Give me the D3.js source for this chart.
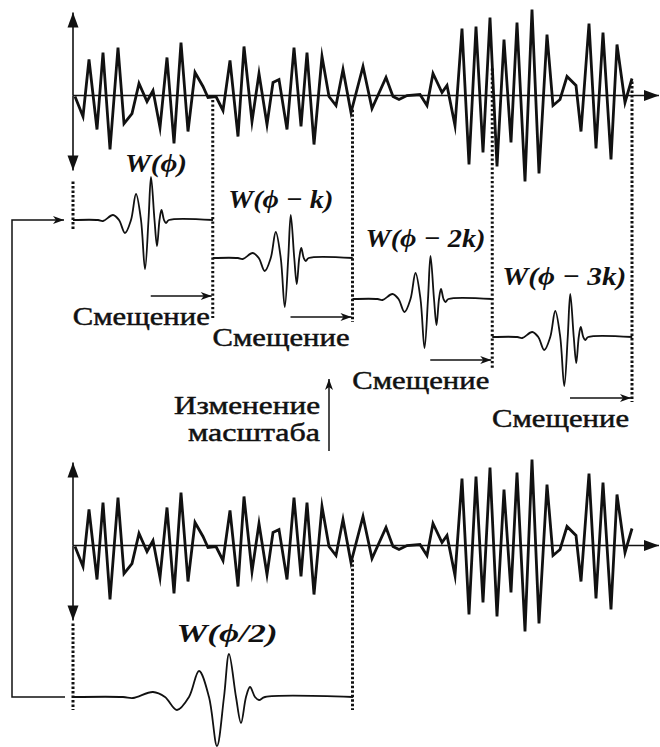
<!DOCTYPE html>
<html>
<head>
<meta charset="utf-8">
<script src="https://cdn.jsdelivr.net/npm/d3@7"></script>
<style>
body { margin: 0; background: #fff; }
svg { display: block; }
.signal { fill: none; stroke: #111; stroke-width: 2.8; stroke-linejoin: miter; stroke-miterlimit: 8; }
.axis-line { stroke: #111; stroke-width: 1.6; fill: none; }
.wavelet { fill: none; stroke: #111; stroke-width: 1.8; }
.dotted { stroke: #111; stroke-width: 3; stroke-dasharray: 2.4 2.1; }
.thin { stroke: #111; stroke-width: 1.5; fill: none; }
.label { font-family: "Liberation Serif", "DejaVu Serif", "Noto Serif", serif; font-size: 26px; fill: #111; stroke: #111; stroke-width: 0.5; }
.w-label { font-family: "Liberation Serif", "DejaVu Serif", "Noto Serif", serif; font-size: 26px; font-weight: bold; font-style: italic; fill: #111; }
</style>
</head>
<body>
<div id="chart"></div>
<script>
//////////////////////////////////////////////////////////////
//////////////////////// Data ////////////////////////////////
//////////////////////////////////////////////////////////////

//The signal (time, amplitude)
const signalT = [2,10,16,24,30,37,45,51,59,66,74,80,87,94,101,108,115,122,130,135,143,150,157,165,171,179,186,194,200,206,214,221,228,234,241,249,256,263,270,278,290,299,313,320,326,334,347,354,360,369,374,382,389,396,403,410,417,424,431,438,444,452,459,466,474,480,487,494,503,508,516,523,530,538,544,552,559]
const signalV = [-1,-21,36,-34,43,-54,48,-28,-18,12,-6,5,-32,38,-48,53,-36,23,9,-2,-1,-15,35,-41,49,-26,22,-29,13,16,-34,48,-31,43,-49,39,-1,-10,26,-17,29,-13,18,-1,-4,0,1,-10,22,3,10,-30,67,-69,69,-57,78,-71,56,-47,73,-86,86,-78,61,-10,-4,19,10,-36,72,-53,63,-64,51,-7,17]

//Mother wavelet shape (time inside one window, amplitude)
const waveletT = [0,25,30,40,46,52,58,63,68,72,75.5,78,81.5,84,86.5,88.5,91,93,96,140]
const waveletV = [0,0,-1,5,0,-13,0,26,0,-49,0,43,0,-26,0,10,0,-3,0,0]

const timeMax = 559
const kShift = timeMax / 4          //shift step k
const shifts = [0, 1, 2, 3]
const scaleFactor = 2

const waveletLabels = ["W(ϕ)", "W(ϕ − k)", "W(ϕ − 2k)", "W(ϕ − 3k)"]
const scaledLabel = "W(ϕ/2)"
const shiftText = "Смещение"
const scaleText = ["Изменение", "масштаба"]

//////////////////////////////////////////////////////////////
//////////////////////// Layout //////////////////////////////
//////////////////////////////////////////////////////////////

const width = 660
const height = 747
const topBase = 95.5
const bottomBase = 545.5
const waveBase = [220, 258, 299, 337]
const scaledBase = 697
const labelDx = [83, 68, 73, 72]
const labelY = [172, 208, 247, 285]
const labelLen = [62, 105, 120, 124]
const shiftArrowY = [296, 317, 360, 398]
const dottedEnd = [230, 318, 322, 368, 402]
const loopX = 12

const svg = d3.select("#chart")
    .append("svg")
    .attr("width", width)
    .attr("height", height)

const defs = svg.append("defs")

//Filled triangle for the axes
defs.append("marker")
    .attr("id", "tri")
    .attr("viewBox", "-16 -6 17 12")
    .attr("refX", 0).attr("refY", 0)
    .attr("markerWidth", 17).attr("markerHeight", 12)
    .attr("markerUnits", "userSpaceOnUse")
    .attr("orient", "auto")
    .append("path")
    .attr("d", "M0,0 L-15,-5.5 L-15,5.5 Z")
    .style("fill", "#111")

//Thin arrow head
defs.append("marker")
    .attr("id", "barb")
    .attr("viewBox", "-12 -5 13 10")
    .attr("refX", 0).attr("refY", 0)
    .attr("markerWidth", 13).attr("markerHeight", 10)
    .attr("markerUnits", "userSpaceOnUse")
    .attr("orient", "auto")
    .append("path")
    .attr("d", "M0,0 L-11,-4 L-8,0 L-11,4 Z")
    .style("fill", "#111")

//////////////////////////////////////////////////////////////
//////////////////////// Scales //////////////////////////////
//////////////////////////////////////////////////////////////

const xScale = d3.scaleLinear()
    .domain([0, timeMax])
    .range([73, 632])

const ampScale = d3.scaleLinear()
    .domain([-100, 100])
    .range([100, -100])

const signalData = signalT.map((t, i) => [t, signalV[i]])
const waveletData = waveletT.map((t, i) => [t, waveletV[i]])

const signalLine = d3.line()
    .x(d => xScale(d[0]))
    .y(d => ampScale(d[1]))

const waveLine = d3.line()
    .curve(d3.curveCatmullRom.alpha(0.5))
    .x(d => xScale(d[0]))
    .y(d => ampScale(d[1]))

//Signal value at time t (linear, like the drawn polyline)
function signalAt(t) {
    const i = Math.max(1, d3.bisectLeft(signalT, t))
    if (i >= signalT.length) return signalV[signalV.length - 1]
    const t0 = signalT[i-1], t1 = signalT[i]
    return signalV[i-1] + (signalV[i] - signalV[i-1]) * (t - t0) / (t1 - t0)
}

//////////////////////////////////////////////////////////////
//////////////////////// Axes + signal ///////////////////////
//////////////////////////////////////////////////////////////

function drawSignal(base) {
    const g = svg.append("g").attr("transform", "translate(0," + base + ")")
    //horizontal axis
    g.append("line")
        .attr("class", "axis-line")
        .attr("x1", xScale(0)).attr("x2", xScale(timeMax) + 27)
        .attr("y1", 0).attr("y2", 0)
        .attr("marker-end", "url(#tri)")
    //vertical axis, arrows both ways
    g.append("line")
        .attr("class", "axis-line")
        .attr("x1", xScale(0)).attr("x2", xScale(0))
        .attr("y1", 0).attr("y2", -83)
        .attr("marker-end", "url(#tri)")
    g.append("line")
        .attr("class", "axis-line")
        .attr("x1", xScale(0)).attr("x2", xScale(0))
        .attr("y1", 0).attr("y2", 75)
        .attr("marker-end", "url(#tri)")
    g.append("path")
        .attr("class", "signal")
        .attr("d", signalLine(signalData))
    return g
}

drawSignal(topBase)
drawSignal(bottomBase)

//////////////////////////////////////////////////////////////
//////////////////////// Dotted guides ///////////////////////
//////////////////////////////////////////////////////////////

const guideTimes = [0, 1, 2, 3, 4].map(d => d * kShift)

svg.selectAll(".dotted-top")
    .data(guideTimes)
    .enter().append("line")
    .attr("class", "dotted")
    .attr("x1", d => xScale(d)).attr("x2", d => xScale(d))
    .attr("y1", (d, i) => i === 0 ? topBase + 86 : topBase + ampScale(signalAt(d)) + 3)
    .attr("y2", (d, i) => dottedEnd[i])

//Bottom guides for the scaled wavelet
svg.selectAll(".dotted-bottom")
    .data([0, scaleFactor * kShift])
    .enter().append("line")
    .attr("class", "dotted")
    .attr("x1", d => xScale(d)).attr("x2", d => xScale(d))
    .attr("y1", (d, i) => i === 0 ? bottomBase + 78 : bottomBase + ampScale(signalAt(d)) + 3)
    .attr("y2", scaledBase + 13)

//////////////////////////////////////////////////////////////
//////////////////////// Shifted wavelets ////////////////////
//////////////////////////////////////////////////////////////

const waves = svg.selectAll(".wave-group")
    .data(shifts)
    .enter().append("g")
    .attr("class", "wave-group")
    .attr("transform", (d, i) => "translate(0," + waveBase[i] + ")")

waves.append("path")
    .attr("class", "wavelet")
    .attr("d", s => waveLine(waveletData.map(p => [p[0] + s * kShift, p[1]])))

svg.selectAll(".w-label-shift")
    .data(shifts)
    .enter().append("text")
    .attr("class", "w-label")
    .attr("x", (s, i) => xScale(s * kShift) + labelDx[i])
    .attr("y", (s, i) => labelY[i])
    .attr("text-anchor", "middle")
    .attr("textLength", (s, i) => labelLen[i])
    .attr("lengthAdjust", "spacingAndGlyphs")
    .text((s, i) => waveletLabels[i])

//Shift arrows and captions
svg.selectAll(".shift-arrow")
    .data(shifts)
    .enter().append("line")
    .attr("class", "thin")
    .attr("x1", s => xScale((s + 1) * kShift) - 62)
    .attr("x2", s => xScale((s + 1) * kShift) - 1)
    .attr("y1", (s, i) => shiftArrowY[i])
    .attr("y2", (s, i) => shiftArrowY[i])
    .attr("marker-end", "url(#barb)")

svg.selectAll(".shift-text")
    .data(shifts)
    .enter().append("text")
    .attr("class", "label")
    .attr("x", s => xScale((s + 1) * kShift) - 3)
    .attr("y", (s, i) => shiftArrowY[i] + 29)
    .attr("text-anchor", "end")
    .attr("textLength", 137)
    .attr("lengthAdjust", "spacingAndGlyphs")
    .text(shiftText)

//////////////////////////////////////////////////////////////
//////////////////////// Scaled wavelet //////////////////////
//////////////////////////////////////////////////////////////

svg.append("path")
    .attr("class", "wavelet")
    .attr("transform", "translate(0," + scaledBase + ")")
    .attr("d", waveLine(waveletData.map(p => [p[0] * scaleFactor, p[1]])))

svg.append("text")
    .attr("class", "w-label")
    .attr("x", xScale(77 * scaleFactor))
    .attr("y", scaledBase - 55)
    .attr("text-anchor", "middle")
    .attr("textLength", 101)
    .attr("lengthAdjust", "spacingAndGlyphs")
    .text(scaledLabel)

//Feedback loop from the scaled wavelet back to the start
svg.append("path")
    .attr("class", "thin")
    .attr("d", d3.line()([
        [xScale(0) - 8, scaledBase],
        [loopX, scaledBase],
        [loopX, waveBase[0]],
        [xScale(0) - 9, waveBase[0]]
    ]))
    .attr("marker-end", "url(#barb)")

//Scale-change caption and arrow
svg.append("line")
    .attr("class", "thin")
    .attr("x1", 329).attr("x2", 329)
    .attr("y1", 451).attr("y2", 379)
    .attr("marker-end", "url(#barb)")

svg.selectAll(".scale-text")
    .data(scaleText)
    .enter().append("text")
    .attr("class", "label")
    .attr("x", 320)
    .attr("y", (d, i) => 414 + i * 27)
    .attr("text-anchor", "end")
    .attr("textLength", (d, i) => i === 0 ? 146 : 132)
    .attr("lengthAdjust", "spacingAndGlyphs")
    .text(d => d)
</script>
</body>
</html>
